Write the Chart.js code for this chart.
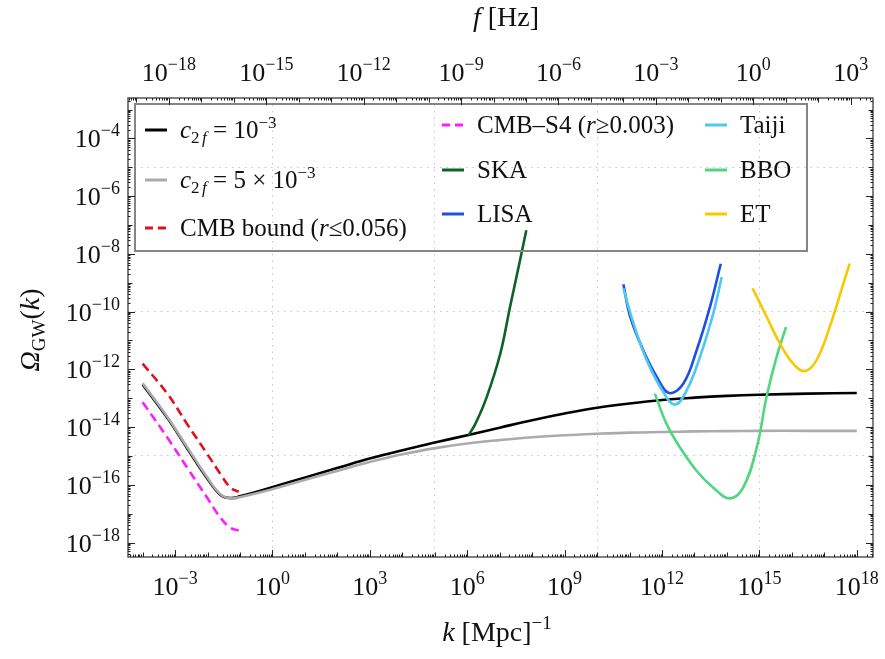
<!DOCTYPE html>
<html>
<head>
<meta charset="utf-8">
<script src="https://cdn.jsdelivr.net/npm/chart.js@4.4.0/dist/chart.umd.min.js"></script>
<style>
  body { margin: 0; background: #fff; }
  #wrap { width: 885px; height: 659px; }
</style>
</head>
<body>
<div id="wrap"><canvas id="gw" width="885" height="659"></canvas></div>
<script>
// all curves stored as log10 values: k in Mpc^-1, Omega_GW dimensionless
const kMain   = [-4.0, -3.24, -2.63, -2.01, -1.6, -1.29, -0.98, -0.06, 0.96, 1.99, 3.02, 4.04, 5.07, 6.0, 7.0, 8.0, 9.0, 10.0, 11.0, 12.0, 13.0, 14.0, 15.0, 16.5, 18.0];
const omegaC1 = [-12.52, -13.68, -14.73, -15.78, -16.35, -16.46, -16.39, -16.10, -15.76, -15.42, -15.08, -14.79, -14.52, -14.28, -14.02, -13.76, -13.53, -13.33, -13.18, -13.06, -12.98, -12.92, -12.88, -12.84, -12.82];
const omegaC5 = [-12.48, -13.64, -14.69, -15.74, -16.33, -16.47, -16.42, -16.17, -15.84, -15.52, -15.20, -14.93, -14.72, -14.57, -14.45, -14.35, -14.28, -14.23, -14.19, -14.17, -14.15, -14.14, -14.13, -14.13, -14.13];

const kCmb       = [-4.0, -3.24, -2.63, -2.01, -1.6, -1.29, -1.04];
const omegaCmb   = [-11.80, -12.84, -13.89, -14.93, -15.63, -16.10, -16.24];
const omegaCmbS4 = [-13.14, -14.36, -15.40, -16.45, -17.14, -17.49, -17.58];

const kSka     = [6.04, 6.25, 6.6, 7.02, 7.32, 7.63, 7.82];
const omegaSka = [-14.28, -13.89, -12.96, -11.45, -9.83, -8.2, -7.18];

const kLisa     = [10.81, 11.02, 11.42, 11.84, 12.22, 12.66, 13.07, 13.48, 13.81];
const omegaLisa = [-9.05, -10.17, -11.33, -12.26, -12.82, -12.49, -11.33, -9.83, -8.34];

const kTaiji     = [10.81, 11.12, 11.53, 12.04, 12.40, 12.76, 13.17, 13.58, 13.84];
const omegaTaiji = [-9.19, -10.40, -11.68, -12.79, -13.22, -12.73, -11.57, -10.06, -8.80];

const kBbo     = [11.78, 12.14, 12.55, 13.07, 13.58, 14.09, 14.50, 14.92, 15.22, 15.53, 15.82];
const omegaBbo = [-12.84, -13.89, -14.70, -15.52, -16.10, -16.47, -16.10, -14.70, -12.96, -11.57, -10.54];

const kEt     = [14.79, 15.22, 15.63, 16.04, 16.40, 16.76, 17.17, 17.53, 17.78];
const omegaEt = [-9.19, -10.17, -11.10, -11.80, -12.06, -11.68, -10.52, -9.24, -8.34];

// axis extents (log10) and tick label exponents
const kRange = [-4.45, 18.5];
const omegaRange = [-18.5, -2.6];
const kLabelExp = [-3, 0, 3, 6, 9, 12, 15, 18];
const fLabelExp = [-18, -15, -12, -9, -6, -3, 0, 3];
const omegaLabelExp = [-18, -16, -14, -12, -10, -8, -6, -4];
const kGrid = [0, 5, 10, 15];
const omegaGrid = [-15, -10, -5];
const HZ_PER_MPC = 1.546e-15; // f = c k / 2pi

const SERIF = "'Liberation Serif', 'DejaVu Serif', serif";
const font = (size, it) => (it ? 'italic ' : '') + size + 'px ' + SERIF;

function pts(ks, ws) {
  return ks.map((k, i) => ({ x: Math.pow(10, k), y: Math.pow(10, ws[i]) }));
}

function runsWidth(ctx, runs) {
  let w = 0;
  runs.forEach(r => { ctx.font = font(r.size, r.it); w += ctx.measureText(r.t).width; });
  return w;
}
function drawRuns(ctx, runs, x, y, align) {
  const w = runsWidth(ctx, runs);
  let cx = align === 'center' ? x - w / 2 : align === 'right' ? x - w : x;
  ctx.textAlign = 'left';
  ctx.textBaseline = 'alphabetic';
  runs.forEach(r => {
    ctx.font = font(r.size, r.it);
    ctx.fillText(r.t, cx, y + (r.dy || 0));
    cx += ctx.measureText(r.t).width;
  });
}
function powerLabel(e) {
  return [{ t: '10', size: 26 }, { t: (e < 0 ? '\u2212' : '') + Math.abs(e), size: 18, dy: -11 }];
}

// inward tick marks along one edge, one pass per decade
function tickRow(ctx, scale, labelled, edge, pos, dir) {
  const lo = Math.floor(Math.log10(scale.min)), hi = Math.ceil(Math.log10(scale.max));
  for (let n = lo; n <= hi; n++) {
    for (let m = 1; m <= 9; m++) {
      const v = m * Math.pow(10, n);
      if (v < scale.min || v > scale.max) continue;
      const p = scale.getPixelForValue(v);
      const len = m === 1 ? (labelled.includes(n) ? 7 : 4.5) : 2.5;
      ctx.beginPath();
      if (edge === 'h') { ctx.moveTo(Math.round(p) + 0.5, pos); ctx.lineTo(Math.round(p) + 0.5, pos + dir * len); }
      else { ctx.moveTo(pos, Math.round(p) + 0.5); ctx.lineTo(pos + dir * len, Math.round(p) + 0.5); }
      ctx.stroke();
    }
  }
}

const legendItems = [
  { col: 0, row: 0, color: '#000000', dash: [], runs: [{ t: 'c', size: 25, it: true }, { t: '2', size: 17, dy: 5 }, { t: ' ', size: 10 }, { t: 'f', size: 17, it: true, dy: 5 }, { t: ' = 10', size: 25 }, { t: '\u22123', size: 17, dy: -10 }] },
  { col: 0, row: 1, color: '#ababab', dash: [], runs: [{ t: 'c', size: 25, it: true }, { t: '2', size: 17, dy: 5 }, { t: ' ', size: 10 }, { t: 'f', size: 17, it: true, dy: 5 }, { t: ' = 5 \u00d7 10', size: 25 }, { t: '\u22123', size: 17, dy: -10 }] },
  { col: 0, row: 2, color: '#e0101c', dash: [8, 5], runs: [{ t: 'CMB bound (', size: 25 }, { t: 'r', size: 25, it: true }, { t: '\u22640.056)', size: 25 }] },
  { col: 1, row: 0, color: '#ff1cff', dash: [8, 5], runs: [{ t: 'CMB\u2013S4 (', size: 25 }, { t: 'r', size: 25, it: true }, { t: '\u22650.003)', size: 25 }] },
  { col: 1, row: 1, color: '#0b6324', dash: [], runs: [{ t: 'SKA', size: 25 }] },
  { col: 1, row: 2, color: '#1f4fe2', dash: [], runs: [{ t: 'LISA', size: 25 }] },
  { col: 2, row: 0, color: '#4fc8ee', dash: [], runs: [{ t: 'Taiji', size: 25 }] },
  { col: 2, row: 1, color: '#4fd67e', dash: [], runs: [{ t: 'BBO', size: 25 }] },
  { col: 2, row: 2, color: '#f8c800', dash: [], runs: [{ t: 'ET', size: 25 }] }
];
const legendCols = [
  { x: 145, rows: [130, 180, 228] },
  { x: 442, rows: [125, 170, 214] },
  { x: 705, rows: [125, 170, 214] }
];

const framePlugin = {
  id: 'frame',
  afterDatasetsDraw(chart) {
    const ctx = chart.ctx;
    ctx.save();
    // legend box, transparent so the grid stays visible
    ctx.strokeStyle = '#858585';
    ctx.lineWidth = 2;
    ctx.strokeRect(135, 104, 672, 147);
    legendItems.forEach(it => {
      const c = legendCols[it.col], y = c.rows[it.row];
      ctx.strokeStyle = it.color;
      ctx.lineWidth = 3;
      ctx.setLineDash(it.dash);
      ctx.beginPath(); ctx.moveTo(c.x, y); ctx.lineTo(c.x + 22, y); ctx.stroke();
      ctx.setLineDash([]);
      ctx.fillStyle = '#111';
      drawRuns(ctx, it.runs, c.x + 35, y + 8, 'left');
    });
    ctx.restore();
  },
  afterDraw(chart) {
    const ctx = chart.ctx, a = chart.chartArea;
    const x = chart.scales.x, y = chart.scales.y, x2 = chart.scales.x2;
    ctx.save();
    ctx.strokeStyle = '#555';
    ctx.lineWidth = 1.5;
    ctx.strokeRect(a.left, a.top, a.right - a.left, a.bottom - a.top);

    ctx.strokeStyle = '#222';
    ctx.lineWidth = 1;
    tickRow(ctx, x, kLabelExp, 'h', a.bottom, -1);
    tickRow(ctx, x2, fLabelExp, 'h', a.top, 1);
    tickRow(ctx, y, omegaLabelExp, 'v', a.left, 1);
    tickRow(ctx, y, omegaLabelExp, 'v', a.right, -1);

    ctx.fillStyle = '#111';
    kLabelExp.forEach(e => drawRuns(ctx, powerLabel(e), x.getPixelForValue(Math.pow(10, e)), 595, 'center'));
    fLabelExp.forEach(e => drawRuns(ctx, powerLabel(e), x2.getPixelForValue(Math.pow(10, e)), 81, 'center'));
    omegaLabelExp.forEach(e => drawRuns(ctx, powerLabel(e), 120, y.getPixelForValue(Math.pow(10, e)) + 9, 'right'));

    // axis titles
    drawRuns(ctx, [{ t: 'k', size: 28, it: true }, { t: ' [Mpc]', size: 28 }, { t: '\u22121', size: 19, dy: -12 }], 497, 641, 'center');
    drawRuns(ctx, [{ t: 'f', size: 28, it: true }, { t: ' [Hz]', size: 28 }], 506, 26, 'center');
    ctx.translate(30, 330);
    ctx.rotate(-Math.PI / 2);
    drawRuns(ctx, [{ t: '\u03a9', size: 28, it: true }, { t: 'GW', size: 19, dy: 6 }, { t: '(', size: 28 }, { t: 'k', size: 28, it: true }, { t: ')', size: 28 }], 0, 9, 'center');
    ctx.restore();
  }
};

function line(data, color, order, dash) {
  return {
    data, borderColor: color, borderWidth: 2.6, borderDash: dash || [],
    pointRadius: 0, fill: false, tension: 0.4, order
  };
}

const datasets = [
  line(pts(kMain, omegaC1), '#000000', 9),
  line(pts(kMain, omegaC5), '#ababab', 8),
  line(pts(kCmb, omegaCmb), '#e0101c', 7, [9, 5]),
  line(pts(kCmb, omegaCmbS4), '#ff1cff', 6, [9, 5]),
  line(pts(kSka, omegaSka), '#0b6324', 5),
  line(pts(kLisa, omegaLisa), '#1f4fe2', 4),
  line(pts(kTaiji, omegaTaiji), '#4fc8ee', 3),
  line(pts(kBbo, omegaBbo), '#4fd67e', 2),
  line(pts(kEt, omegaEt), '#f8c800', 1)
];

const gridOpts = { color: '#c4c4c4', lineWidth: 1, drawTicks: false };
const borderOpts = { display: false, dash: [1.5, 5] };

new Chart(document.getElementById('gw'), {
  type: 'line',
  data: { datasets },
  options: {
    responsive: false,
    animation: false,
    events: [],
    layout: { padding: { top: 98, right: 12, left: 0, bottom: 0 } },
    plugins: { legend: { display: false }, tooltip: { enabled: false } },
    scales: {
      x: {
        type: 'logarithmic', position: 'bottom',
        min: Math.pow(10, kRange[0]), max: Math.pow(10, kRange[1]),
        ticks: { display: false }, grid: gridOpts, border: borderOpts,
        afterBuildTicks: s => { s.ticks = kGrid.map(e => ({ value: Math.pow(10, e) })); },
        afterFit: s => { s.height = 102; }
      },
      x2: {
        type: 'logarithmic', position: 'top',
        min: Math.pow(10, kRange[0]) * HZ_PER_MPC, max: Math.pow(10, kRange[1]) * HZ_PER_MPC,
        ticks: { display: false }, grid: { display: false }, border: { display: false },
        afterFit: s => { s.height = 0; }
      },
      y: {
        type: 'logarithmic', position: 'left',
        min: Math.pow(10, omegaRange[0]), max: Math.pow(10, omegaRange[1]),
        ticks: { display: false }, grid: gridOpts, border: borderOpts,
        afterBuildTicks: s => { s.ticks = omegaGrid.map(e => ({ value: Math.pow(10, e) })); },
        afterFit: s => { s.width = 128; }
      }
    }
  },
  plugins: [framePlugin]
});
</script>
</body>
</html>
